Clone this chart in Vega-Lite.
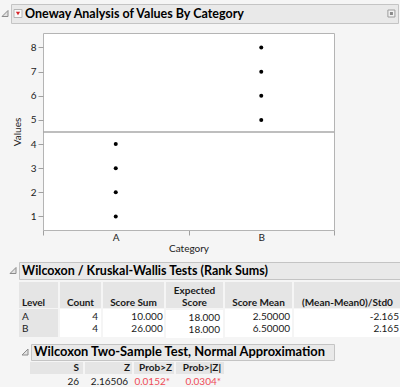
{
  "$schema": "https://vega.github.io/schema/vega-lite/v6.json",
  "background": "#f5f5f5",
  "padding": {"left": 0, "top": 3, "right": 0, "bottom": 0},
  "config": {
    "view": {"stroke": null},
    "font": "Lato",
    "text": {"font": "Lato", "fontSize": 10, "color": "#1a1a1a"},
    "axis": {"labelFont": "Lato", "titleFont": "Lato"},
    "concat": {"spacing": 0},
    "locale": {"number": {"decimal": ".", "thousands": ",", "grouping": [3], "currency": ["", "*"], "minus": "-"}}
  },
  "datasets": {
    "values": [
      {"Category": "A", "Values": 1}, {"Category": "A", "Values": 2}, {"Category": "A", "Values": 3}, {"Category": "A", "Values": 4},
      {"Category": "B", "Values": 5}, {"Category": "B", "Values": 6}, {"Category": "B", "Values": 7}, {"Category": "B", "Values": 8}
    ],
    "ranks": [
      {"Level": "A", "Count": 4, "Score Sum": 10, "Expected Score": 18, "Score Mean": 2.5, "Z": -2.165},
      {"Level": "B", "Count": 4, "Score Sum": 26, "Expected Score": 18, "Score Mean": 6.5, "Z": 2.165}
    ],
    "test": [
      {"S": 26, "Z": 2.16506, "ProbZ": 0.0152, "ProbAbsZ": 0.0304}
    ]
  },
  "spacing": 8,
  "vconcat": [
    {"spacing": 0, "hconcat": [
      {"width": 8, "height": 19, "data": {"values": [{}]}, "mark": {"type": "point", "shape": "M1,-1L1,1L-1,1Z", "size": 36, "filled": true, "fill": "#e2e2e2", "stroke": "#8c8c8c", "strokeWidth": 1, "opacity": 1}},
      {"width": 387, "height": 19, "view": {"fill": "#e9e9e9", "stroke": "#c4c4c4"},
       "resolve": {"scale": {"x": "independent"}},
       "encoding": {"x": {"field": "part", "type": "nominal", "scale": {"type": "point", "domain": ["icon", "title"], "range": [7, 14], "padding": 0}, "axis": null}},
       "layer": [
         {"data": {"values": [{"part": "icon"}]}, "mark": {"type": "square", "size": 64, "filled": true, "fill": "#fafafa", "stroke": "#b5b5b5", "strokeWidth": 1, "opacity": 1}},
         {"data": {"values": [{"part": "icon"}]}, "mark": {"type": "point", "shape": "triangle-down", "size": 18, "filled": true, "fill": "#d7262b", "opacity": 1}},
         {"data": {"values": [{"part": "title"}]}, "mark": {"type": "text", "align": "left", "fontWeight": "bold", "fontSize": 12.5, "color": "#000"}, "encoding": {"text": {"value": "Oneway Analysis of Values By Category"}}},
         {"data": {"values": [{}]}, "mark": {"type": "square", "size": 49, "filled": true, "fill": "#f2f2f2", "stroke": "#9c9c9c", "strokeWidth": 1, "opacity": 1},
          "encoding": {"x": {"datum": "k", "type": "nominal", "scale": {"type": "point", "align": 0.983}, "axis": null}}},
         {"data": {"values": [{}]}, "mark": {"type": "square", "size": 9, "filled": true, "fill": "#8a8a8a", "opacity": 1},
          "encoding": {"x": {"datum": "k", "type": "nominal", "scale": {"type": "point", "align": 0.983}, "axis": null}}}
       ]}
    ]},
    {"spacing": 7, "vconcat": [
      {"spacing": 0, "hconcat": [
        {"width": 10, "height": 1, "data": {"values": []}, "mark": "point"},
        {"width": 291, "height": 197, "view": {"fill": "white", "stroke": "#b4b4b4"}, "data": {"name": "values"},
         "layer": [
           {"mark": {"type": "point", "filled": true, "color": "#000", "size": 16, "opacity": 1},
            "encoding": {
              "x": {"field": "Category", "type": "nominal", "scale": {"type": "band", "paddingInner": 0, "paddingOuter": 0},
                    "axis": {"title": "Category", "labelAngle": 0, "tickBand": "extent", "tickSize": 5, "labelPadding": -3, "titlePadding": 1, "domainColor": "#b4b4b4", "tickColor": "#a0a0a0", "labelFontSize": 10, "titleFontSize": 10, "titleFontWeight": "normal", "labelColor": "#222", "titleColor": "#222"}},
              "y": {"field": "Values", "type": "quantitative", "title": "Values", "scale": {"domain": [0.44, 8.6], "nice": false, "zero": false},
                    "axis": {"values": [1, 2, 3, 4, 5, 6, 7, 8], "labelOverlap": false, "labelFlush": false, "grid": false, "domain": false, "tickSize": 5, "tickColor": "#a0a0a0", "labelPadding": 2, "titlePadding": 8, "labelFontSize": 10, "titleFontSize": 10, "titleFontWeight": "normal", "labelColor": "#222", "titleColor": "#222"}}
            }},
           {"transform": [{"aggregate": [{"op": "mean", "field": "Values", "as": "Grand Mean"}]}],
            "mark": {"type": "rule", "color": "#a8a8a8", "strokeWidth": 1.5},
            "encoding": {"y": {"field": "Grand Mean", "type": "quantitative", "title": "Values",
                    "axis": {"values": [1, 2, 3, 4, 5, 6, 7, 8], "labelOverlap": false, "labelFlush": false, "grid": false, "domain": false, "tickSize": 5, "tickColor": "#a0a0a0", "labelPadding": 2, "titlePadding": 8, "labelFontSize": 10, "titleFontSize": 10, "titleFontWeight": "normal", "labelColor": "#222", "titleColor": "#222"}}}}
         ]}
      ]},
      {"spacing": 2, "vconcat": [
        {"spacing": 0, "hconcat": [
          {"width": 7, "height": 1, "data": {"values": []}, "mark": "point"},
          {"width": 10, "height": 17, "data": {"values": [{}]}, "mark": {"type": "point", "shape": "M1,-1L1,1L-1,1Z", "size": 36, "filled": true, "fill": "#e2e2e2", "stroke": "#8c8c8c", "strokeWidth": 1, "opacity": 1}},
          {"width": 383, "height": 17, "view": {"fill": "#e9e9e9", "stroke": "#c4c4c4"}, "data": {"values": [{}]},
           "mark": {"type": "text", "align": "left", "fontWeight": "bold", "fontSize": 12.5, "color": "#000"},
           "encoding": {"x": {"datum": "t", "type": "nominal", "scale": {"type": "point", "align": 0.008}, "axis": null}, "text": {"value": "Wilcoxon / Kruskal-Wallis Tests (Rank Sums)"}}}
        ]},
        {"spacing": 5, "vconcat": [
          {"spacing": 2, "hconcat": [
            {"width": 16, "height": 1, "data": {"values": []}, "mark": "point"},
            {"spacing": 1, "vconcat": [
              {"width": 39, "height": 26, "view": {"fill": "#e5e5e5"}, "data": {"values": [{}]}, "mark": {"type": "text", "align": "left", "baseline": "bottom", "fontWeight": "bold"},
               "encoding": {"x": {"datum": "c", "type": "nominal", "scale": {"type": "point", "align": 0.077}, "axis": null}, "y": {"datum": "h", "type": "nominal", "scale": {"type": "point", "align": 1}, "axis": null}, "text": {"value": "Level"}}},
              {"width": 39, "height": 28, "view": {"fill": "#e5e5e5"}, "data": {"name": "ranks"}, "mark": {"type": "text", "align": "left"},
               "encoding": {"x": {"datum": "c", "type": "nominal", "scale": {"type": "point", "align": 0.077}, "axis": null}, "y": {"field": "Level", "type": "nominal", "scale": {"type": "point", "padding": 0.667}, "axis": null}, "text": {"field": "Level"}}}
            ]},
            {"spacing": 1, "vconcat": [
              {"width": 41, "height": 26, "view": {"fill": "#e5e5e5"}, "data": {"values": [{}]}, "mark": {"type": "text", "baseline": "bottom", "fontWeight": "bold"},
               "encoding": {"y": {"datum": "h", "type": "nominal", "scale": {"type": "point", "align": 1}, "axis": null}, "text": {"value": "Count"}}},
              {"width": 41, "height": 28, "view": {"fill": "white"}, "data": {"name": "ranks"}, "mark": {"type": "text", "align": "right"},
               "encoding": {"x": {"datum": "c", "type": "nominal", "scale": {"type": "point", "align": 0.927}, "axis": null}, "y": {"field": "Level", "type": "nominal", "scale": {"type": "point", "padding": 0.667}, "axis": null}, "text": {"field": "Count", "type": "quantitative", "format": "d"}}}
            ]},
            {"spacing": 1, "vconcat": [
              {"width": 61, "height": 26, "view": {"fill": "#e5e5e5"}, "data": {"values": [{}]}, "mark": {"type": "text", "baseline": "bottom", "fontWeight": "bold"},
               "encoding": {"y": {"datum": "h", "type": "nominal", "scale": {"type": "point", "align": 1}, "axis": null}, "text": {"value": "Score Sum"}}},
              {"width": 61, "height": 28, "view": {"fill": "white"}, "data": {"name": "ranks"}, "mark": {"type": "text", "align": "right"},
               "encoding": {"x": {"datum": "c", "type": "nominal", "scale": {"type": "point", "align": 0.979}, "axis": null}, "y": {"field": "Level", "type": "nominal", "scale": {"type": "point", "padding": 0.667}, "axis": null}, "text": {"field": "Score Sum", "type": "quantitative", "format": ".3f"}}}
            ]},
            {"spacing": 1, "vconcat": [
              {"width": 57, "height": 26, "view": {"fill": "#e5e5e5"}, "data": {"values": [{}]}, "mark": {"type": "text", "baseline": "bottom", "fontWeight": "bold", "lineHeight": 12},
               "encoding": {"y": {"datum": "h", "type": "nominal", "scale": {"type": "point", "align": 0.54}, "axis": null}, "text": {"value": ["Expected", "Score"]}}},
              {"width": 57, "height": 28, "view": {"fill": "white"}, "data": {"name": "ranks"}, "mark": {"type": "text", "align": "right"},
               "encoding": {"x": {"datum": "c", "type": "nominal", "scale": {"type": "point", "align": 0.947}, "axis": null}, "y": {"field": "Level", "type": "nominal", "scale": {"type": "point", "padding": 0.667}, "axis": null}, "text": {"field": "Expected Score", "type": "quantitative", "format": ".3f"}}}
            ]},
            {"spacing": 1, "vconcat": [
              {"width": 67, "height": 26, "view": {"fill": "#e5e5e5"}, "data": {"values": [{}]}, "mark": {"type": "text", "baseline": "bottom", "fontWeight": "bold"},
               "encoding": {"y": {"datum": "h", "type": "nominal", "scale": {"type": "point", "align": 1}, "axis": null}, "text": {"value": "Score Mean"}}},
              {"width": 67, "height": 28, "view": {"fill": "white"}, "data": {"name": "ranks"}, "mark": {"type": "text", "align": "right"},
               "encoding": {"x": {"datum": "c", "type": "nominal", "scale": {"type": "point", "align": 0.97}, "axis": null}, "y": {"field": "Level", "type": "nominal", "scale": {"type": "point", "padding": 0.667}, "axis": null}, "text": {"field": "Score Mean", "type": "quantitative", "format": ".5f"}}}
            ]},
            {"spacing": 1, "vconcat": [
              {"width": 107, "height": 26, "view": {"fill": "#e5e5e5"}, "data": {"values": [{}]}, "mark": {"type": "text", "baseline": "bottom", "fontWeight": "bold"},
               "encoding": {"y": {"datum": "h", "type": "nominal", "scale": {"type": "point", "align": 1}, "axis": null}, "text": {"value": "(Mean-Mean0)/Std0"}}},
              {"width": 107, "height": 28, "view": {"fill": "white"}, "data": {"name": "ranks"}, "mark": {"type": "text", "align": "right"},
               "encoding": {"x": {"datum": "c", "type": "nominal", "scale": {"type": "point", "align": 0.981}, "axis": null}, "y": {"field": "Level", "type": "nominal", "scale": {"type": "point", "padding": 0.667}, "axis": null}, "text": {"field": "Z", "type": "quantitative", "format": ".3f"}}}
            ]}
          ]},
          {"spacing": 1, "vconcat": [
            {"spacing": 0, "hconcat": [
              {"width": 19, "height": 1, "data": {"values": []}, "mark": "point"},
              {"width": 10, "height": 16, "data": {"values": [{}]}, "mark": {"type": "point", "shape": "M1,-1L1,1L-1,1Z", "size": 36, "filled": true, "fill": "#e2e2e2", "stroke": "#8c8c8c", "strokeWidth": 1, "opacity": 1}},
              {"width": 303, "height": 16, "view": {"fill": "#e9e9e9", "stroke": "#c4c4c4"}, "data": {"values": [{}]},
               "mark": {"type": "text", "align": "left", "fontWeight": "bold", "fontSize": 12.9, "color": "#000"},
               "encoding": {"x": {"datum": "t", "type": "nominal", "scale": {"type": "point", "align": 0.01}, "axis": null}, "text": {"value": "Wilcoxon Two-Sample Test, Normal Approximation"}}}
            ]},
            {"spacing": 2, "hconcat": [
              {"width": 27, "height": 1, "data": {"values": []}, "mark": "point"},
              {"spacing": 0, "vconcat": [
                {"width": 53, "height": 12, "view": {"fill": "#e5e5e5"}, "data": {"values": [{}]}, "mark": {"type": "text", "align": "right", "fontWeight": "bold"},
                 "encoding": {"x": {"datum": "c", "type": "nominal", "scale": {"type": "point", "align": 0.925}, "axis": null}, "text": {"value": "S"}}},
                {"width": 53, "height": 16, "data": {"name": "test"}, "mark": {"type": "text", "align": "right"},
                 "encoding": {"x": {"datum": "c", "type": "nominal", "scale": {"type": "point", "align": 0.925}, "axis": null}, "text": {"field": "S", "type": "quantitative", "format": "d"}}}
              ]},
              {"spacing": 0, "vconcat": [
                {"width": 47, "height": 12, "view": {"fill": "#e5e5e5"}, "data": {"values": [{}]}, "mark": {"type": "text", "align": "right", "fontWeight": "bold"},
                 "encoding": {"x": {"datum": "c", "type": "nominal", "scale": {"type": "point", "align": 0.957}, "axis": null}, "text": {"value": "Z"}}},
                {"width": 47, "height": 16, "data": {"name": "test"}, "mark": {"type": "text", "align": "right"},
                 "encoding": {"x": {"datum": "c", "type": "nominal", "scale": {"type": "point", "align": 0.915}, "axis": null}, "text": {"field": "Z", "type": "quantitative", "format": ".5f"}}}
              ]},
              {"spacing": 0, "vconcat": [
                {"width": 40, "height": 12, "view": {"fill": "#e5e5e5"}, "data": {"values": [{}]}, "mark": {"type": "text", "align": "right", "fontWeight": "bold"},
                 "encoding": {"x": {"datum": "c", "type": "nominal", "scale": {"type": "point", "align": 0.95}, "axis": null}, "text": {"value": "Prob>Z"}}},
                {"width": 40, "height": 16, "data": {"name": "test"}, "mark": {"type": "text", "align": "right", "color": "#ee4c58"},
                 "encoding": {"x": {"datum": "c", "type": "nominal", "scale": {"type": "point", "align": 0.9}, "axis": null}, "text": {"field": "ProbZ", "type": "quantitative", "format": "$.4f"}}}
              ]},
              {"spacing": 0, "vconcat": [
                {"width": 48, "height": 12, "view": {"fill": "#e5e5e5"}, "data": {"values": [{}]}, "mark": {"type": "text", "align": "right", "fontWeight": "bold"},
                 "encoding": {"x": {"datum": "c", "type": "nominal", "scale": {"type": "point", "align": 0.9375}, "axis": null}, "text": {"value": "Prob>|Z|"}}},
                {"width": 48, "height": 16, "data": {"name": "test"}, "mark": {"type": "text", "align": "right", "color": "#ee4c58"},
                 "encoding": {"x": {"datum": "c", "type": "nominal", "scale": {"type": "point", "align": 0.9375}, "axis": null}, "text": {"field": "ProbAbsZ", "type": "quantitative", "format": "$.4f"}}}
              ]}
            ]}
          ]}
        ]}
      ]}
    ]}
  ]
}
